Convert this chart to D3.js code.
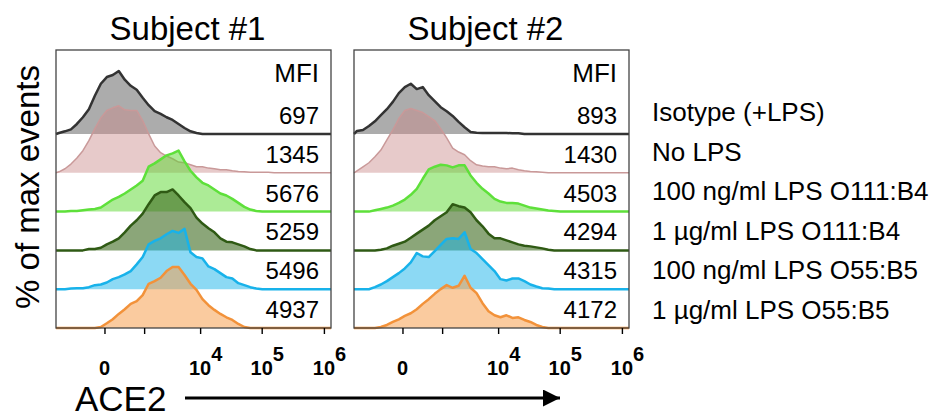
<!DOCTYPE html>
<html lang="en">
<head>
<meta charset="utf-8">
<title>ACE2 histograms</title>
<script src="https://cdn.jsdelivr.net/npm/d3@7"></script>
<style>
  body { margin: 0; background: #fff; }
  text { font-family: "Liberation Sans", Arial, Helvetica, sans-serif; fill: #000; }
</style>
</head>
<body>
<div id="chart"></div>
<script>
// ---- data ----
var subjects = ["Subject #1", "Subject #2"];
var conditions = ["Isotype (+LPS)", "No LPS", "100 ng/ml LPS O111:B4",
                  "1 µg/ml LPS O111:B4", "100 ng/ml LPS O55:B5", "1 µg/ml LPS O55:B5"];
var mfiSubject1 = [697, 1345, 5676, 5259, 5496, 4937];
var mfiSubject2 = [893, 1430, 4503, 4294, 4315, 4172];

// % of max events in 46 equal channels along the ACE2 axis
var s1Isotype = [1.5,4,7,15,25,37,57,75,85,88,94,81,72,66,54,43,34,30,25,21,15,9,4,1.5,0,0,0,0,0,0,0,0,0,0,0,0,0,0,0,0,0,0,0,0,0,0];
var s1NoLps   = [1.5,6,13,22,33,48,66,82,93,97,100,94,93,93,78,58,40,30,25,21,16,15,12,9,9,7,6,4.5,4.5,3,2,1.5,1,1,1,1,0,0,0,0,0,0,0,0,0,0];
var s1O111lo  = [0,0,1,1,2,3,4,6,12,18,22,27,33,39,46,67,72,78,84,87,91,75,61,51,43,39,33,27,24,19,13,7,3,1,0,0,0,0,0,0,0,0,0,0,0,0];
var s1O111hi  = [0,0,0,0,0,2,2,4,9,13,18,27,37,45,55,69,82,87,87,91,82,72,63,49,40,33,27,18,13,12,9,6,2,0,0,0,0,0,0,0,0,0,0,0,0,0];
var s1O55lo   = [0,0,1,1.5,1.5,3,6,7,10,15,18,22,27,37,48,67,72,76,82,87,84,90,55,48,46,34,30,24,18,16,9,6,3,1,0,0,0,0,0,0,0,0,0,0,0,0];
var s1O55hi   = [0,0,0,0,0,0,0,1.5,7,13,21,28,36,40,49,66,70,75,85,91,91,79,66,57,43,34,27,21,16,12,6,1.5,0,0,0,0,0,0,0,0,0,0,0,0,0,0];

var s2Isotype = [4.5,6,12,19,28,37,48,61,70,75,67,70,58,49,40,34,27,18,10,3,2,1.5,1.5,1.5,1.5,1.5,1,1,0,0,0,0,0,0,0,0,0,0,0,0,0,0,0,0,0,0];
var s2NoLps   = [3,9,15,24,34,49,64,81,93,96,93,90,84,78,66,52,37,31,27,18,12,10,9,9,7,6,7,4.5,3,2,1.5,1,0,0,0,0,0,0,0,0,0,0,0,0,0,0];
var s2O111lo  = [0,0,0,2,4,6,9,13,18,25,34,49,63,67,70,69,66,69,69,54,43,34,27,19,15,13,13,12,9,6,4.5,3,1.5,1,0,0,0,0,0,0,0,0,0,0,0,0];
var s2O111hi  = [0,0,0,0,1,3,7,10,13,19,25,31,37,45,51,57,69,66,64,57,45,36,25,18,18,15,12,9,7,6,4.5,3,1,0,0,0,0,0,0,0,0,0,0,0,0,0];
var s2O55lo   = [0,0,0,3,7,12,18,24,31,40,54,49,48,57,66,75,76,75,85,60,54,45,36,27,15,13,16,16,12,7,4,1.5,1,0,0,0,0,0,0,0,0,0,0,0,0,0];
var s2O55hi   = [0,0,0,0,1.5,4.5,9,13,18,22,28,36,43,51,58,64,60,63,78,60,52,37,25,19,16,19,15,16,12,9,4.5,1.5,0,0,0,0,0,0,0,0,0,0,0,0,0,0];

var majorTicks = [0, 1e3, 1e4, 1e5, 1e6];
var tickLabels = [["0", ""], ["10", "4"], ["10", "5"], ["10", "6"]];
var tickLabelValues = [0, 1e4, 1e5, 1e6];

var histograms = [
  [s1Isotype, s1NoLps, s1O111lo, s1O111hi, s1O55lo, s1O55hi],
  [s2Isotype, s2NoLps, s2O111lo, s2O111hi, s2O55lo, s2O55hi]
];
var mfis = [mfiSubject1, mfiSubject2];

// ---- styles ----
var strokeColors = ["#333333", "#c99999", "#5ee03a", "#2f5a14", "#18b2ea", "#f2923a"];
var fillColors   = ["#7f7f7f", "#c98a8a", "#5ad82e", "#3d6b1f", "#1ab4ea", "#f5a050"];
var fillOpacity  = [0.65, 0.45, 0.5, 0.6, 0.5, 0.55];
var strokeWidths = [2.5, 1.5, 2.5, 2.5, 2.5, 2.5];

var W = 938, H = 418;
var pw = 275, plotTop = 50, plotBottom = 328;
var panelLeft = [56, 354];
var nBins = s1Isotype.length;

var svg = d3.select("#chart").append("svg")
    .attr("width", W).attr("height", H);

// ACE2 axis, biexponential-like display
var x = d3.scaleSymlog().constant(300).domain([-1500, 1.3e6]).range([0, pw]);
var xb = d3.scaleLinear().domain([0, nBins]).range([0, pw]);
var rowY = d3.scalePoint().domain(d3.range(conditions.length)).range([134, plotBottom]);
var legendY = d3.scalePoint().domain(d3.range(conditions.length)).range([121, 319]);
var hY = d3.scaleLinear().domain([0, 100]).range([0, 67]);

// minor ticks for each decade
var minorTicks = [];
[-1, 1].forEach(function(sgn) {
  for (var k = 1; k <= 5; k++) {
    for (var m = 1; m <= 9; m++) {
      var v = sgn * m * Math.pow(10, k);
      if (v >= x.domain()[0] && v <= x.domain()[1]) minorTicks.push(v);
    }
  }
});

subjects.forEach(function(subj, k) {
  var g = svg.append("g").attr("transform", "translate(" + panelLeft[k] + ",0)");

  histograms[k].forEach(function(vals, i) {
    var base = rowY(i);
    var pts = [{c: 0, v: 0}];
    vals.forEach(function(v, j) { pts.push({c: j + 0.5, v: v}); });
    pts.push({c: nBins, v: 0});

    var area = d3.area()
        .x(function(d) { return xb(d.c); })
        .y0(base)
        .y1(function(d) { return base - hY(d.v); });
    var line = d3.line()
        .x(function(d) { return xb(d.c); })
        .y(function(d) { return base - hY(d.v); });

    g.append("path").datum(pts)
        .attr("d", area)
        .attr("fill", fillColors[i])
        .attr("fill-opacity", fillOpacity[i]);
    g.append("path").datum(pts)
        .attr("d", line)
        .attr("fill", "none")
        .attr("stroke", strokeColors[i])
        .attr("stroke-width", strokeWidths[i])
        .attr("stroke-linejoin", "round");
  });

  // panel frame
  g.append("rect")
      .attr("x", 0).attr("y", plotTop)
      .attr("width", pw).attr("height", plotBottom - plotTop)
      .attr("fill", "none").attr("stroke", "#444").attr("stroke-width", 1.3);

  // MFI column
  g.append("text")
      .attr("x", pw - 12).attr("y", 82)
      .attr("text-anchor", "end").style("font-size", "26px")
      .text("MFI");
  g.selectAll(".mfi").data(mfis[k]).enter().append("text")
      .attr("class", "mfi")
      .attr("x", pw - 12)
      .attr("y", function(d, i) { return rowY(i) - 10; })
      .attr("text-anchor", "end").style("font-size", "24px")
      .text(function(d) { return d; });

  // title
  g.append("text")
      .attr("x", pw / 2 - 6).attr("y", 40)
      .attr("text-anchor", "middle").style("font-size", "33px")
      .text(subj);

  // axis ticks
  var ax = g.append("g").attr("transform", "translate(0," + plotBottom + ")");
  ax.call(d3.axisBottom(x).tickValues(minorTicks).tickSize(3).tickFormat(""));
  ax.call(d3.axisBottom(x).tickValues(majorTicks).tickSize(6).tickFormat(""));
  ax.selectAll(".domain").remove();
  ax.selectAll(".tick line").attr("stroke", "#000").attr("stroke-width", 1.4);

  // tick labels with superscripts
  tickLabelValues.forEach(function(v, j) {
    var lab = tickLabels[j];
    var t = g.append("text")
        .attr("y", 375)
        .style("font-size", "20px").style("font-weight", "bold");
    t.append("tspan").text(lab[0]);
    if (lab[1]) t.append("tspan").attr("dy", -14).text(lab[1]);
    var baseW = t.select("tspan").node().getComputedTextLength();
    t.attr("x", x(v) - baseW / 2);
  });
});

// legend at right
svg.append("g").selectAll("text").data(conditions).enter().append("text")
    .attr("x", 652)
    .attr("y", function(d, i) { return legendY(i); })
    .style("font-size", "26px")
    .text(function(d) { return d; });

// y label
svg.append("text")
    .attr("transform", "translate(39," + ((plotTop + plotBottom) / 2 - 2) + ") rotate(-90)")
    .attr("text-anchor", "middle").style("font-size", "33px")
    .text("% of max events");

// x label with arrow
svg.append("text")
    .attr("x", 75).attr("y", 411)
    .style("font-size", "35px")
    .text("ACE2");
svg.append("defs").append("marker")
    .attr("id", "arrowhead")
    .attr("viewBox", "0 -5 10 10")
    .attr("refX", 10).attr("refY", 0)
    .attr("markerUnits", "userSpaceOnUse")
    .attr("markerWidth", 18).attr("markerHeight", 17)
    .attr("orient", "auto")
    .append("path")
    .attr("d", "M0,-5L10,0L0,5Z")
    .attr("fill", "#000");
svg.append("line")
    .attr("x1", 185).attr("x2", 560)
    .attr("y1", 398).attr("y2", 398)
    .attr("stroke", "#000").attr("stroke-width", 3)
    .attr("marker-end", "url(#arrowhead)");
</script>
</body>
</html>
